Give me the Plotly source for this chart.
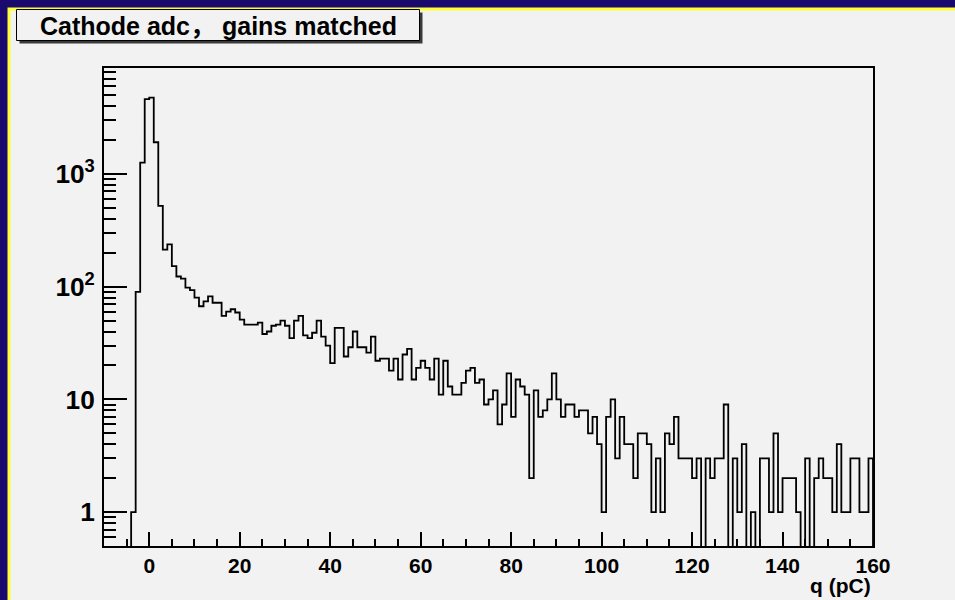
import plotly.graph_objects as go

# histogram: 1 pC bins from -10 to 160
x_min = -10
bin_width = 1

counts_neg = [0, 0, 0, 0, 0, 0, 1, 90, 1260, 4620]  # -10 .. -1
counts_0_39 = [4750, 1910, 520, 213, 237, 152, 123, 118, 98, 93,
               80, 67, 74, 82, 72, 72, 55, 60, 63, 59,
               51, 46, 46, 46, 48, 38, 40, 45, 46, 50,
               45, 35, 50, 55, 37, 35, 39, 50, 36, 30]
counts_40_79 = [21, 43, 43, 24, 29, 40, 29, 29, 26, 36,
                22, 23, 23, 18, 23, 15, 25, 28, 15, 19,
                22, 19, 15, 23, 11, 22, 13, 11, 11, 14,
                18, 19, 14, 15, 9, 10, 12, 6, 9, 17]
counts_80_119 = [7, 15, 13, 11, 2, 12, 7, 8, 10, 17,
                 10, 7, 9, 9, 7, 8, 8, 5, 7, 4,
                 1, 7, 10, 3, 7, 4, 4, 2, 5, 5,
                 4, 1, 3, 1, 5, 4, 7, 3, 3, 3]
counts_120_159 = [2, 3, 0, 3, 2, 3, 3, 9, 0, 3,
                  1, 4, 0, 1, 0, 3, 3, 1, 5, 1,
                  2, 2, 2, 1, 0, 3, 0, 2, 3, 2,
                  2, 1, 4, 1, 1, 3, 3, 1, 1, 3]

counts = counts_neg + counts_0_39 + counts_40_79 + counts_80_119 + counts_120_159

title_text = "Cathode adc\uff0c gains matched"
x_title = "q (pC)"

# page geometry
W, H = 955, 600
L, R, T, B = 104, 82, 68, 54
PW, PH = W - L - R, H - T - B


def px(x):
    return (x - L) / PW


def py(y):
    return (H - B - y) / PH


# step outline, empty bins drop below the axis like ROOT does on log scale
floor = 0.05
edges = [x_min + i * bin_width for i in range(len(counts) + 1)]
ys = [c if c > 0 else floor for c in counts]
xs = edges + [edges[-1]]
ys = ys + [ys[-1], floor]

FONT = "Liberation Sans, Arial, Helvetica, Noto Sans CJK SC, sans-serif"
NAVY = "#1a0a6e"

fig = go.Figure()
fig.add_trace(go.Scatter(
    x=xs, y=ys, mode="lines", line_shape="hv",
    line=dict(color="black", width=1.8), hoverinfo="skip", showlegend=False,
))

shapes = [
    # canvas with yellow border
    dict(type="rect", xref="paper", yref="paper", layer="below",
         x0=px(9), x1=px(W + 10), y0=py(H + 10), y1=py(9),
         fillcolor="#f2f2f2", line=dict(color="#ffff33", width=3)),
    # title box shadow + box
    dict(type="rect", xref="paper", yref="paper", layer="above",
         x0=px(19.5), x1=px(422.5), y0=py(43.5), y1=py(12.5),
         fillcolor="#3a3a3a", line=dict(width=0)),
    dict(type="rect", xref="paper", yref="paper", layer="above",
         x0=px(16.5), x1=px(419.5), y0=py(40.5), y1=py(9.5),
         fillcolor="#f2f2f2", line=dict(color="black", width=1)),
]

fig.update_layout(
    width=W, height=H,
    margin=dict(l=L, r=R, t=T, b=B, pad=0),
    paper_bgcolor=NAVY,
    plot_bgcolor="#f2f2f2",
    shapes=shapes,
    showlegend=False,
    font=dict(family=FONT, color="black"),
    annotations=[
        dict(text=title_text, xref="paper", yref="paper",
             x=px(218), y=py(26), xanchor="center", yanchor="middle",
             showarrow=False, font=dict(size=25, weight="bold", color="black")),
        dict(text=x_title, xref="paper", yref="paper",
             x=1, y=py(585), xanchor="right", yanchor="middle",
             showarrow=False, font=dict(size=21, weight="bold", color="black")),
    ],
)

fig.update_xaxes(
    range=[-10, 160], tick0=0, dtick=20,
    ticks="inside", ticklen=14, tickwidth=1.5, tickcolor="black",
    minor=dict(dtick=5, ticks="inside", ticklen=7, tickwidth=1.5, tickcolor="black", showgrid=False),
    showline=True, linecolor="black", linewidth=2, mirror=True,
    showgrid=False, zeroline=False,
    tickfont=dict(size=21, weight="bold", color="black", family=FONT),
)
fig.update_yaxes(
    type="log", range=[-0.301, 3.94], dtick=1, exponentformat="power",
    ticks="inside", ticklen=23, tickwidth=1.5, tickcolor="black",
    minor=dict(dtick="D1", ticks="inside", ticklen=12, tickwidth=1.5, tickcolor="black", showgrid=False),
    showline=True, linecolor="black", linewidth=2, mirror=True,
    showgrid=False, zeroline=False,
    ticklabelstandoff=3,
    tickfont=dict(size=21, weight="bold", color="black", family=FONT),
)

# drop the default page margin so the 955x600 figure fills the window
fig.write_html(
    "out.html",
    config={"displayModeBar": False},
    post_script=(
        "document.body.style.margin='0';"
        "document.body.style.overflow='hidden';"
        f"document.body.style.background='{NAVY}';"
    ),
)
